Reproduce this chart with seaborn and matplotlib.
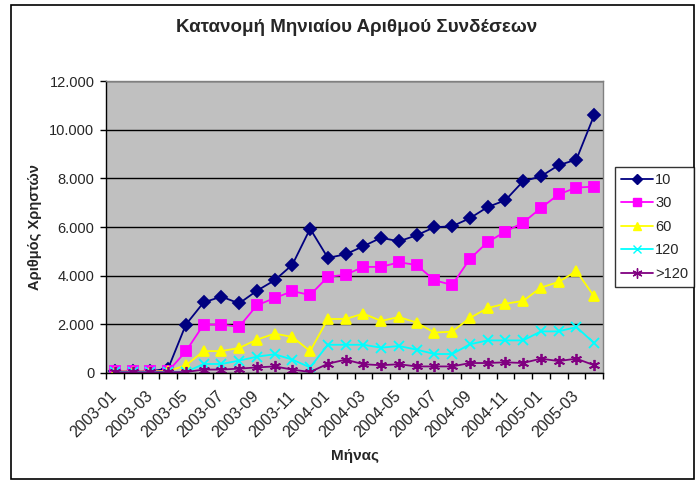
import matplotlib
matplotlib.use('Agg')
import matplotlib.pyplot as plt
import seaborn as sns
from matplotlib.ticker import FuncFormatter, FixedLocator
from matplotlib.patches import Rectangle

# Monthly connections per session-length group
months = [f"{y}-{m:02d}" for y, m in
          [(2003, m) for m in range(1, 13)] + [(2004, m) for m in range(1, 13)] + [(2005, m) for m in range(1, 5)]]

s10 = [70, 70, 70, 180, 1990, 2900, 3140, 2860, 3380, 3810, 4450, 5930, 4730, 4880,
       5210, 5560, 5410, 5660, 5990, 6030, 6360, 6820, 7100, 7880, 8080, 8540, 8770, 10590]
s30 = [70, 70, 70, 70, 890, 1990, 1990, 1900, 2780, 3080, 3360, 3210, 3950, 4040,
       4360, 4360, 4550, 4440, 3810, 3620, 4690, 5380, 5810, 6180, 6780, 7340, 7620, 7660]
s60 = [60, 60, 60, 80, 315, 900, 900, 1030, 1370, 1620, 1480, 900, 2220, 2220,
       2440, 2140, 2300, 2070, 1660, 1700, 2260, 2670, 2850, 2960, 3510, 3740, 4190, 3150]
s120 = [40, 40, 40, 40, 40, 370, 370, 510, 670, 770, 550, 230, 1160, 1160,
        1160, 1040, 1110, 960, 780, 780, 1180, 1340, 1340, 1340, 1710, 1710, 1890, 1230]
s_gt120 = [30, 30, 30, 30, 40, 140, 140, 180, 230, 270, 140, 40, 380, 550,
           360, 320, 360, 270, 270, 270, 410, 410, 440, 410, 590, 490, 590, 320]

groups = ['10', '30', '60', '120', '>120']
colors = ['#000080', '#FF00FF', '#FFFF00', '#00FFFF', '#800080']
markers = ['D', 's', '^', 'x', (6, 2, 0)]
msizes = [6, 6.5, 7, 7, 8]
series = [s10, s30, s60, s120, s_gt120]

sns.set_theme(style='white')
plt.rcParams['font.family'] = ['Liberation Sans', 'DejaVu Sans']

fig = plt.figure(figsize=(6.96, 4.8), dpi=100)
ax = fig.add_axes([106 / 696, 1 - 373 / 480, 497 / 696, 292 / 480])
ax.set_facecolor('#C0C0C0')

x_idx = list(range(len(months)))
for vals, c, m, ms in zip(series, colors, markers, msizes):
    sns.lineplot(x=x_idx, y=vals, color=c, marker=m, markersize=ms,
                 markerfacecolor=c, markeredgecolor=c, markeredgewidth=1.3,
                 linewidth=1.3, ax=ax, legend=False)

ax.set_xlim(-0.5, len(months) - 0.5)
ax.set_ylim(0, 12000)
ax.set_yticks(range(0, 12001, 2000))
ax.yaxis.set_major_formatter(FuncFormatter(lambda v, p: f"{v:,.0f}".replace(',', '.')))
ax.grid(axis='y', color='black', linewidth=1)
ax.set_axisbelow(True)

ax.set_xticks(range(0, len(months), 2))
ax.set_xticklabels(months[::2], rotation=45, ha='right', va='center', rotation_mode='anchor')
ax.xaxis.set_minor_locator(FixedLocator([i - 0.5 for i in range(len(months) + 1)]))
ax.tick_params(axis='x', which='major', length=0, labelsize=11.5, pad=15)
ax.tick_params(axis='x', which='minor', length=4, width=1, color='black', direction='out')
ax.tick_params(axis='y', length=4.3, width=1, color='black', direction='out', labelsize=10.5, pad=4)
ax.tick_params(bottom=True, left=True, which='both')

for side in ['top', 'right']:
    ax.spines[side].set_color('#808080')
for side in ['left', 'bottom']:
    ax.spines[side].set_color('black')
for sp in ax.spines.values():
    sp.set_linewidth(1)

ax.set_xlabel('Μήνας', fontsize=11, fontweight='bold', labelpad=6)
ax.set_ylabel('Αριθμός Χρηστών', fontsize=10.5, fontweight='bold', labelpad=5)
fig.suptitle('Κατανομή Μηνιαίου Αριθμού Συνδέσεων', x=357 / 696, y=1 - 27 / 480,
             va='center', fontsize=13.5, fontweight='bold')

handles = [plt.Line2D([], [], color=c, marker=m, markersize=ms * 0.9, markerfacecolor=c,
                      markeredgecolor=c, linewidth=1.3)
           for c, m, ms in zip(colors, markers, msizes)]
leg = fig.legend(handles, groups, loc='upper left', bbox_to_anchor=(615 / 696, 1 - 167 / 480),
                 frameon=True, fancybox=False, fontsize=10.5, handlelength=2.2,
                 labelspacing=0.65, borderpad=0.4, handletextpad=0.15, borderaxespad=0)
leg.get_frame().set_edgecolor('black')
leg.get_frame().set_linewidth(1)

fig.patches.append(Rectangle((11 / 696, 1 / 480), 683 / 696, 474 / 480, transform=fig.transFigure,
                             fill=False, edgecolor='black', linewidth=1.2))

fig.savefig('out.png', dpi=100, facecolor='white')
